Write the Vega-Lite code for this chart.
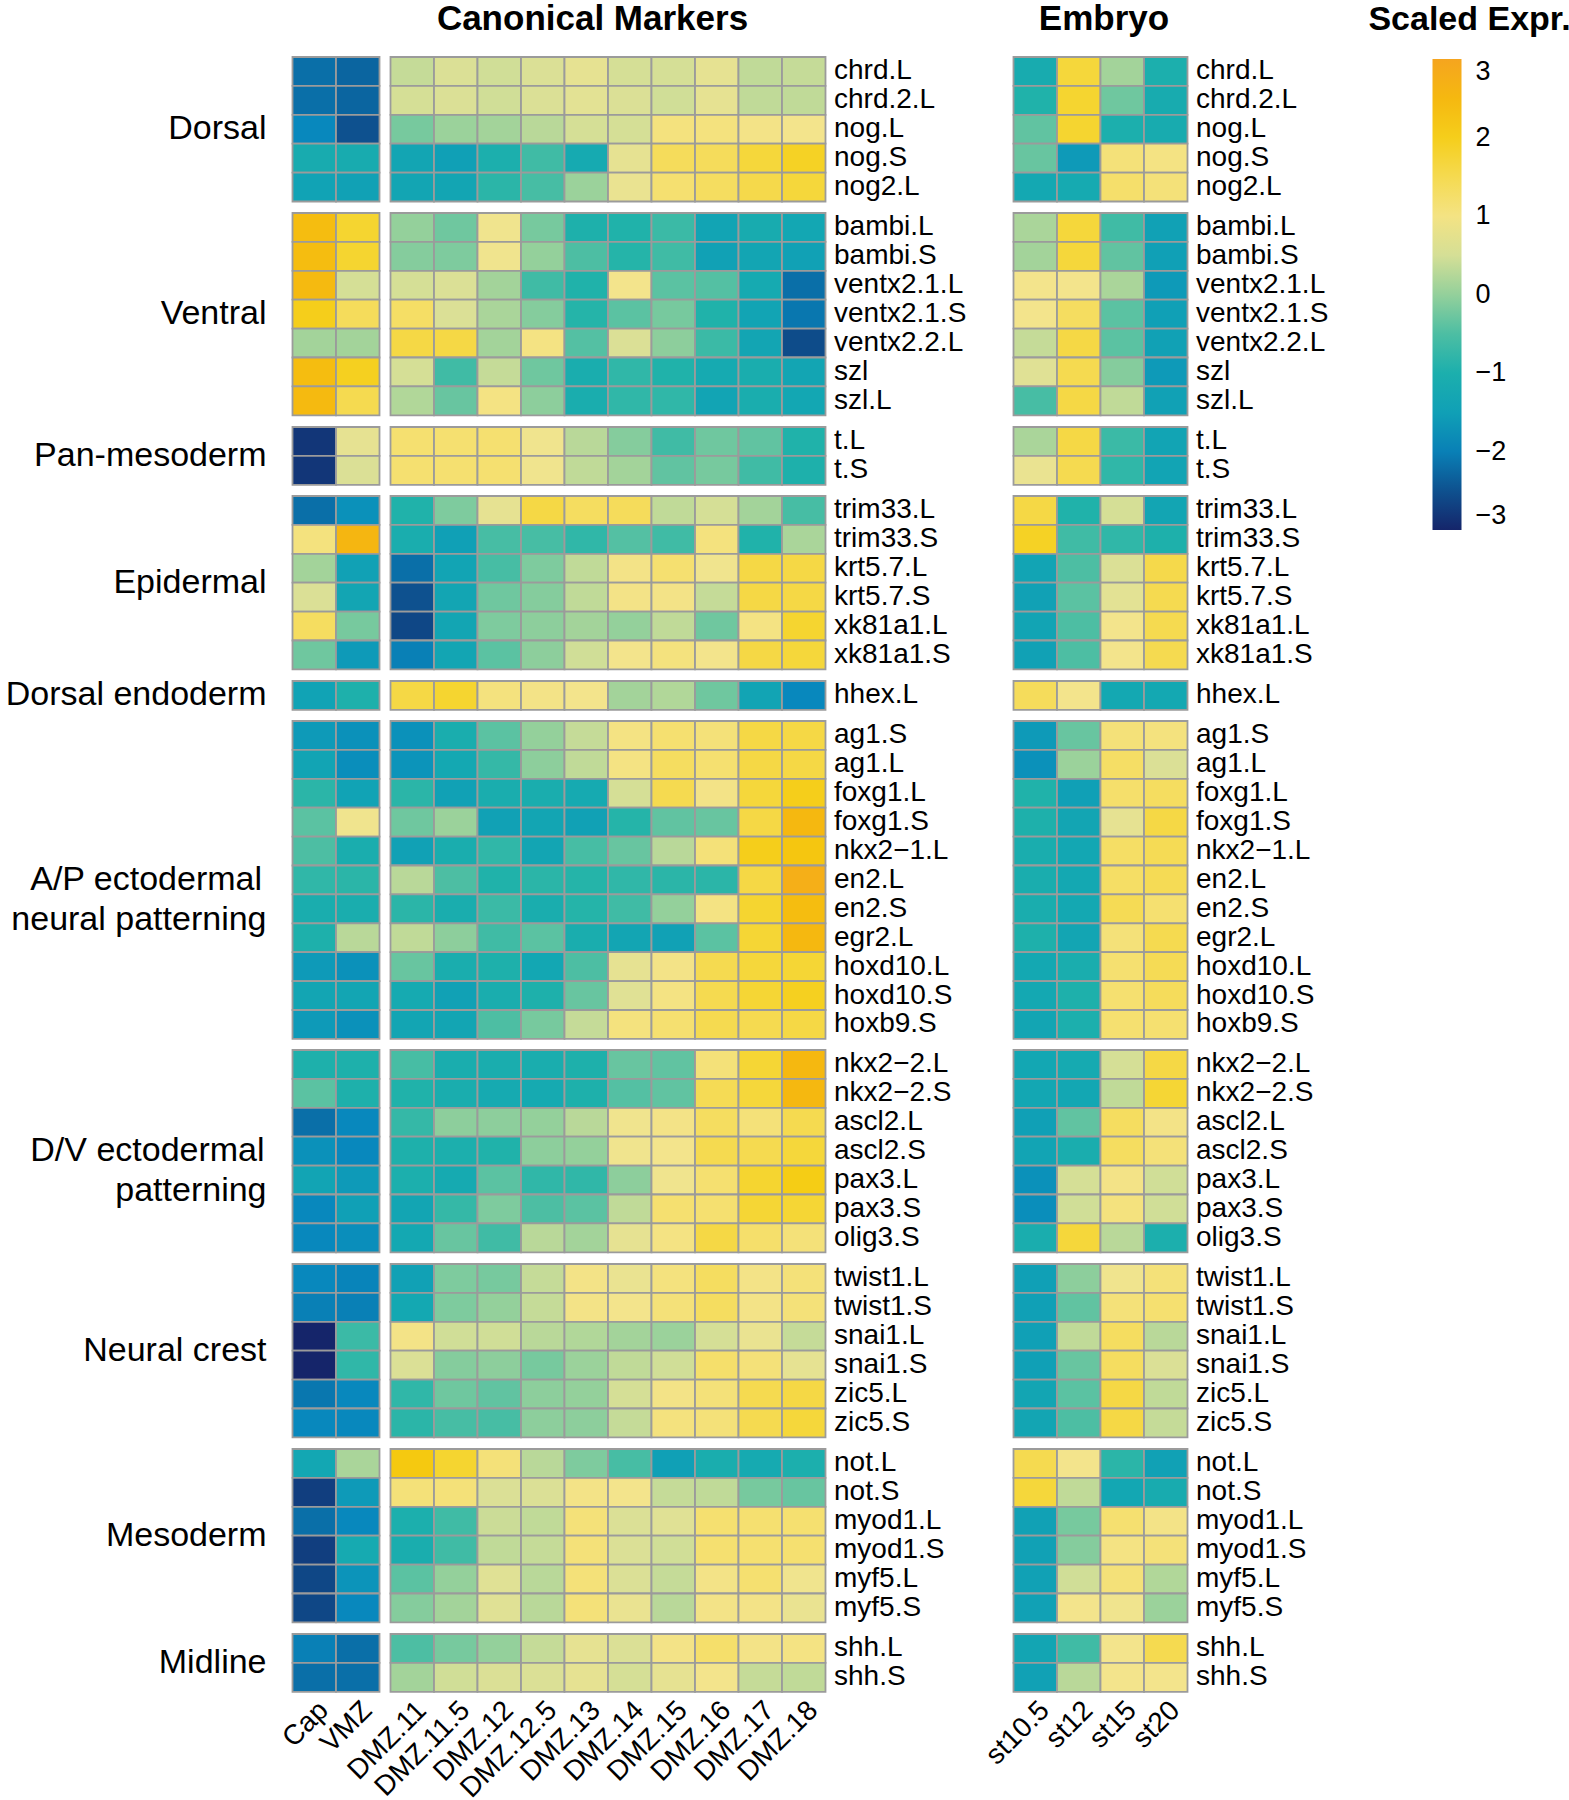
{
"$schema": "https://vega.github.io/schema/vega-lite/v6.json",
"padding": {"left": 5.5, "top": 2, "right": 0, "bottom": 0},
"config": {"font": "Liberation Sans", "view": {"stroke": null}, "axis": {"labelColor": "#000"}, "header": {"labelColor": "#000"}},
"datasets": {
"genes": [
{"g":"chrd.L","grp":"Dorsal","i":1},{"g":"chrd.2.L","grp":"Dorsal","i":2},{"g":"nog.L","grp":"Dorsal","i":3},{"g":"nog.S","grp":"Dorsal","i":4},{"g":"nog2.L","grp":"Dorsal","i":5},
{"g":"bambi.L","grp":"Ventral","i":6},{"g":"bambi.S","grp":"Ventral","i":7},{"g":"ventx2.1.L","grp":"Ventral","i":8},{"g":"ventx2.1.S","grp":"Ventral","i":9},{"g":"ventx2.2.L","grp":"Ventral","i":10},{"g":"szl","grp":"Ventral","i":11},{"g":"szl.L","grp":"Ventral","i":12},
{"g":"t.L","grp":"Pan-mesoderm","i":13},{"g":"t.S","grp":"Pan-mesoderm","i":14},
{"g":"trim33.L","grp":"Epidermal","i":15},{"g":"trim33.S","grp":"Epidermal","i":16},{"g":"krt5.7.L","grp":"Epidermal","i":17},{"g":"krt5.7.S","grp":"Epidermal","i":18},{"g":"xk81a1.L","grp":"Epidermal","i":19},{"g":"xk81a1.S","grp":"Epidermal","i":20},
{"g":"hhex.L","grp":"Dorsal endoderm","i":21},
{"g":"ag1.S","grp":"\u200b\u00a0\u00a0A/P ectodermal|neural patterning","i":22},{"g":"ag1.L","grp":"\u200b\u00a0\u00a0A/P ectodermal|neural patterning","i":23},{"g":"foxg1.L","grp":"\u200b\u00a0\u00a0A/P ectodermal|neural patterning","i":24},{"g":"foxg1.S","grp":"\u200b\u00a0\u00a0A/P ectodermal|neural patterning","i":25},{"g":"nkx2−1.L","grp":"\u200b\u00a0\u00a0A/P ectodermal|neural patterning","i":26},{"g":"en2.L","grp":"\u200b\u00a0\u00a0A/P ectodermal|neural patterning","i":27},{"g":"en2.S","grp":"\u200b\u00a0\u00a0A/P ectodermal|neural patterning","i":28},{"g":"egr2.L","grp":"\u200b\u00a0\u00a0A/P ectodermal|neural patterning","i":29},{"g":"hoxd10.L","grp":"\u200b\u00a0\u00a0A/P ectodermal|neural patterning","i":30},{"g":"hoxd10.S","grp":"\u200b\u00a0\u00a0A/P ectodermal|neural patterning","i":31},{"g":"hoxb9.S","grp":"\u200b\u00a0\u00a0A/P ectodermal|neural patterning","i":32},
{"g":"nkx2−2.L","grp":"D/V ectodermal|\u200b\u00a0\u00a0\u00a0\u00a0\u00a0\u00a0\u00a0\u00a0\u00a0patterning","i":33},{"g":"nkx2−2.S","grp":"D/V ectodermal|\u200b\u00a0\u00a0\u00a0\u00a0\u00a0\u00a0\u00a0\u00a0\u00a0patterning","i":34},{"g":"ascl2.L","grp":"D/V ectodermal|\u200b\u00a0\u00a0\u00a0\u00a0\u00a0\u00a0\u00a0\u00a0\u00a0patterning","i":35},{"g":"ascl2.S","grp":"D/V ectodermal|\u200b\u00a0\u00a0\u00a0\u00a0\u00a0\u00a0\u00a0\u00a0\u00a0patterning","i":36},{"g":"pax3.L","grp":"D/V ectodermal|\u200b\u00a0\u00a0\u00a0\u00a0\u00a0\u00a0\u00a0\u00a0\u00a0patterning","i":37},{"g":"pax3.S","grp":"D/V ectodermal|\u200b\u00a0\u00a0\u00a0\u00a0\u00a0\u00a0\u00a0\u00a0\u00a0patterning","i":38},{"g":"olig3.S","grp":"D/V ectodermal|\u200b\u00a0\u00a0\u00a0\u00a0\u00a0\u00a0\u00a0\u00a0\u00a0patterning","i":39},
{"g":"twist1.L","grp":"Neural crest","i":40},{"g":"twist1.S","grp":"Neural crest","i":41},{"g":"snai1.L","grp":"Neural crest","i":42},{"g":"snai1.S","grp":"Neural crest","i":43},{"g":"zic5.L","grp":"Neural crest","i":44},{"g":"zic5.S","grp":"Neural crest","i":45},
{"g":"not.L","grp":"Mesoderm","i":46},{"g":"not.S","grp":"Mesoderm","i":47},{"g":"myod1.L","grp":"Mesoderm","i":48},{"g":"myod1.S","grp":"Mesoderm","i":49},{"g":"myf5.L","grp":"Mesoderm","i":50},{"g":"myf5.S","grp":"Mesoderm","i":51},
{"g":"shh.L","grp":"Midline","i":52},{"g":"shh.S","grp":"Midline","i":53}
],
"cells": [
{"g":"chrd.L","c":"Cap","v":-2.2},{"g":"chrd.L","c":"VMZ","v":-2.3},{"g":"chrd.L","c":"DMZ.11","v":0.35},{"g":"chrd.L","c":"DMZ.11.5","v":0.55},{"g":"chrd.L","c":"DMZ.12","v":0.45},{"g":"chrd.L","c":"DMZ.12.5","v":0.55},{"g":"chrd.L","c":"DMZ.13","v":0.7},{"g":"chrd.L","c":"DMZ.14","v":0.5},{"g":"chrd.L","c":"DMZ.15","v":0.5},{"g":"chrd.L","c":"DMZ.16","v":0.7},{"g":"chrd.L","c":"DMZ.17","v":0.3},{"g":"chrd.L","c":"DMZ.18","v":0.35},{"g":"chrd.L","c":"st10.5","v":-1.1},{"g":"chrd.L","c":"st12","v":1.7},{"g":"chrd.L","c":"st15","v":0.1},{"g":"chrd.L","c":"st20","v":-1.0},
{"g":"chrd.2.L","c":"Cap","v":-2.2},{"g":"chrd.2.L","c":"VMZ","v":-2.3},{"g":"chrd.2.L","c":"DMZ.11","v":0.5},{"g":"chrd.2.L","c":"DMZ.11.5","v":0.55},{"g":"chrd.2.L","c":"DMZ.12","v":0.45},{"g":"chrd.2.L","c":"DMZ.12.5","v":0.55},{"g":"chrd.2.L","c":"DMZ.13","v":0.65},{"g":"chrd.2.L","c":"DMZ.14","v":0.55},{"g":"chrd.2.L","c":"DMZ.15","v":0.45},{"g":"chrd.2.L","c":"DMZ.16","v":0.7},{"g":"chrd.2.L","c":"DMZ.17","v":0.3},{"g":"chrd.2.L","c":"DMZ.18","v":0.3},{"g":"chrd.2.L","c":"st10.5","v":-0.9},{"g":"chrd.2.L","c":"st12","v":1.8},{"g":"chrd.2.L","c":"st15","v":-0.25},{"g":"chrd.2.L","c":"st20","v":-1.1},
{"g":"nog.L","c":"Cap","v":-1.9},{"g":"nog.L","c":"VMZ","v":-2.5},{"g":"nog.L","c":"DMZ.11","v":-0.2},{"g":"nog.L","c":"DMZ.11.5","v":0.05},{"g":"nog.L","c":"DMZ.12","v":0.1},{"g":"nog.L","c":"DMZ.12.5","v":0.25},{"g":"nog.L","c":"DMZ.13","v":0.5},{"g":"nog.L","c":"DMZ.14","v":0.5},{"g":"nog.L","c":"DMZ.15","v":1.05},{"g":"nog.L","c":"DMZ.16","v":1.05},{"g":"nog.L","c":"DMZ.17","v":0.95},{"g":"nog.L","c":"DMZ.18","v":0.9},{"g":"nog.L","c":"st10.5","v":-0.35},{"g":"nog.L","c":"st12","v":1.8},{"g":"nog.L","c":"st15","v":-1.0},{"g":"nog.L","c":"st20","v":-1.1},
{"g":"nog.S","c":"Cap","v":-1.1},{"g":"nog.S","c":"VMZ","v":-1.1},{"g":"nog.S","c":"DMZ.11","v":-1.3},{"g":"nog.S","c":"DMZ.11.5","v":-1.5},{"g":"nog.S","c":"DMZ.12","v":-1.0},{"g":"nog.S","c":"DMZ.12.5","v":-0.6},{"g":"nog.S","c":"DMZ.13","v":-1.15},{"g":"nog.S","c":"DMZ.14","v":0.7},{"g":"nog.S","c":"DMZ.15","v":1.4},{"g":"nog.S","c":"DMZ.16","v":1.4},{"g":"nog.S","c":"DMZ.17","v":1.7},{"g":"nog.S","c":"DMZ.18","v":1.9},{"g":"nog.S","c":"st10.5","v":-0.3},{"g":"nog.S","c":"st12","v":-1.6},{"g":"nog.S","c":"st15","v":1.1},{"g":"nog.S","c":"st20","v":1.0},
{"g":"nog2.L","c":"Cap","v":-1.4},{"g":"nog2.L","c":"VMZ","v":-1.45},{"g":"nog2.L","c":"DMZ.11","v":-1.3},{"g":"nog2.L","c":"DMZ.11.5","v":-1.3},{"g":"nog2.L","c":"DMZ.12","v":-0.8},{"g":"nog2.L","c":"DMZ.12.5","v":-0.55},{"g":"nog2.L","c":"DMZ.13","v":0.05},{"g":"nog2.L","c":"DMZ.14","v":0.75},{"g":"nog2.L","c":"DMZ.15","v":1.2},{"g":"nog2.L","c":"DMZ.16","v":1.35},{"g":"nog2.L","c":"DMZ.17","v":1.55},{"g":"nog2.L","c":"DMZ.18","v":1.7},{"g":"nog2.L","c":"st10.5","v":-1.2},{"g":"nog2.L","c":"st12","v":-1.15},{"g":"nog2.L","c":"st15","v":1.25},{"g":"nog2.L","c":"st20","v":1.1},
{"g":"bambi.L","c":"Cap","v":2.4},{"g":"bambi.L","c":"VMZ","v":1.8},{"g":"bambi.L","c":"DMZ.11","v":0.0},{"g":"bambi.L","c":"DMZ.11.5","v":-0.25},{"g":"bambi.L","c":"DMZ.12","v":0.85},{"g":"bambi.L","c":"DMZ.12.5","v":-0.2},{"g":"bambi.L","c":"DMZ.13","v":-0.95},{"g":"bambi.L","c":"DMZ.14","v":-0.9},{"g":"bambi.L","c":"DMZ.15","v":-0.65},{"g":"bambi.L","c":"DMZ.16","v":-1.35},{"g":"bambi.L","c":"DMZ.17","v":-1.1},{"g":"bambi.L","c":"DMZ.18","v":-1.25},{"g":"bambi.L","c":"st10.5","v":0.15},{"g":"bambi.L","c":"st12","v":1.7},{"g":"bambi.L","c":"st15","v":-0.6},{"g":"bambi.L","c":"st20","v":-1.45},
{"g":"bambi.S","c":"Cap","v":2.4},{"g":"bambi.S","c":"VMZ","v":1.8},{"g":"bambi.S","c":"DMZ.11","v":-0.1},{"g":"bambi.S","c":"DMZ.11.5","v":-0.15},{"g":"bambi.S","c":"DMZ.12","v":0.85},{"g":"bambi.S","c":"DMZ.12.5","v":0.0},{"g":"bambi.S","c":"DMZ.13","v":-0.5},{"g":"bambi.S","c":"DMZ.14","v":-0.85},{"g":"bambi.S","c":"DMZ.15","v":-0.6},{"g":"bambi.S","c":"DMZ.16","v":-1.45},{"g":"bambi.S","c":"DMZ.17","v":-1.3},{"g":"bambi.S","c":"DMZ.18","v":-1.45},{"g":"bambi.S","c":"st10.5","v":0.1},{"g":"bambi.S","c":"st12","v":1.7},{"g":"bambi.S","c":"st15","v":-0.35},{"g":"bambi.S","c":"st20","v":-1.5},
{"g":"ventx2.1.L","c":"Cap","v":2.45},{"g":"ventx2.1.L","c":"VMZ","v":0.5},{"g":"ventx2.1.L","c":"DMZ.11","v":0.5},{"g":"ventx2.1.L","c":"DMZ.11.5","v":0.55},{"g":"ventx2.1.L","c":"DMZ.12","v":0.1},{"g":"ventx2.1.L","c":"DMZ.12.5","v":-0.6},{"g":"ventx2.1.L","c":"DMZ.13","v":-0.9},{"g":"ventx2.1.L","c":"DMZ.14","v":0.9},{"g":"ventx2.1.L","c":"DMZ.15","v":-0.4},{"g":"ventx2.1.L","c":"DMZ.16","v":-0.45},{"g":"ventx2.1.L","c":"DMZ.17","v":-1.15},{"g":"ventx2.1.L","c":"DMZ.18","v":-2.2},{"g":"ventx2.1.L","c":"st10.5","v":0.9},{"g":"ventx2.1.L","c":"st12","v":0.9},{"g":"ventx2.1.L","c":"st15","v":0.15},{"g":"ventx2.1.L","c":"st20","v":-1.6},
{"g":"ventx2.1.S","c":"Cap","v":2.0},{"g":"ventx2.1.S","c":"VMZ","v":1.4},{"g":"ventx2.1.S","c":"DMZ.11","v":1.3},{"g":"ventx2.1.S","c":"DMZ.11.5","v":0.55},{"g":"ventx2.1.S","c":"DMZ.12","v":0.15},{"g":"ventx2.1.S","c":"DMZ.12.5","v":-0.1},{"g":"ventx2.1.S","c":"DMZ.13","v":-0.85},{"g":"ventx2.1.S","c":"DMZ.14","v":-0.4},{"g":"ventx2.1.S","c":"DMZ.15","v":-0.2},{"g":"ventx2.1.S","c":"DMZ.16","v":-0.9},{"g":"ventx2.1.S","c":"DMZ.17","v":-1.35},{"g":"ventx2.1.S","c":"DMZ.18","v":-2.1},{"g":"ventx2.1.S","c":"st10.5","v":0.9},{"g":"ventx2.1.S","c":"st12","v":1.35},{"g":"ventx2.1.S","c":"st15","v":-0.4},{"g":"ventx2.1.S","c":"st20","v":-1.5},
{"g":"ventx2.2.L","c":"Cap","v":0.1},{"g":"ventx2.2.L","c":"VMZ","v":0.1},{"g":"ventx2.2.L","c":"DMZ.11","v":1.6},{"g":"ventx2.2.L","c":"DMZ.11.5","v":1.6},{"g":"ventx2.2.L","c":"DMZ.12","v":0.1},{"g":"ventx2.2.L","c":"DMZ.12.5","v":1.0},{"g":"ventx2.2.L","c":"DMZ.13","v":-0.45},{"g":"ventx2.2.L","c":"DMZ.14","v":0.55},{"g":"ventx2.2.L","c":"DMZ.15","v":-0.05},{"g":"ventx2.2.L","c":"DMZ.16","v":-0.65},{"g":"ventx2.2.L","c":"DMZ.17","v":-1.3},{"g":"ventx2.2.L","c":"DMZ.18","v":-2.55},{"g":"ventx2.2.L","c":"st10.5","v":0.35},{"g":"ventx2.2.L","c":"st12","v":1.6},{"g":"ventx2.2.L","c":"st15","v":-0.4},{"g":"ventx2.2.L","c":"st20","v":-1.45},
{"g":"szl","c":"Cap","v":2.4},{"g":"szl","c":"VMZ","v":1.95},{"g":"szl","c":"DMZ.11","v":0.5},{"g":"szl","c":"DMZ.11.5","v":-0.6},{"g":"szl","c":"DMZ.12","v":0.35},{"g":"szl","c":"DMZ.12.5","v":-0.25},{"g":"szl","c":"DMZ.13","v":-1.05},{"g":"szl","c":"DMZ.14","v":-0.75},{"g":"szl","c":"DMZ.15","v":-0.9},{"g":"szl","c":"DMZ.16","v":-1.15},{"g":"szl","c":"DMZ.17","v":-1.05},{"g":"szl","c":"DMZ.18","v":-1.3},{"g":"szl","c":"st10.5","v":0.6},{"g":"szl","c":"st12","v":1.5},{"g":"szl","c":"st15","v":-0.1},{"g":"szl","c":"st20","v":-1.6},
{"g":"szl.L","c":"Cap","v":2.45},{"g":"szl.L","c":"VMZ","v":1.5},{"g":"szl.L","c":"DMZ.11","v":0.2},{"g":"szl.L","c":"DMZ.11.5","v":-0.3},{"g":"szl.L","c":"DMZ.12","v":1.0},{"g":"szl.L","c":"DMZ.12.5","v":-0.05},{"g":"szl.L","c":"DMZ.13","v":-1.05},{"g":"szl.L","c":"DMZ.14","v":-0.75},{"g":"szl.L","c":"DMZ.15","v":-0.75},{"g":"szl.L","c":"DMZ.16","v":-1.35},{"g":"szl.L","c":"DMZ.17","v":-1.05},{"g":"szl.L","c":"DMZ.18","v":-1.25},{"g":"szl.L","c":"st10.5","v":-0.55},{"g":"szl.L","c":"st12","v":1.6},{"g":"szl.L","c":"st15","v":0.3},{"g":"szl.L","c":"st20","v":-1.45},
{"g":"t.L","c":"Cap","v":-2.8},{"g":"t.L","c":"VMZ","v":0.7},{"g":"t.L","c":"DMZ.11","v":1.2},{"g":"t.L","c":"DMZ.11.5","v":1.2},{"g":"t.L","c":"DMZ.12","v":1.2},{"g":"t.L","c":"DMZ.12.5","v":0.85},{"g":"t.L","c":"DMZ.13","v":0.25},{"g":"t.L","c":"DMZ.14","v":-0.1},{"g":"t.L","c":"DMZ.15","v":-0.6},{"g":"t.L","c":"DMZ.16","v":-0.25},{"g":"t.L","c":"DMZ.17","v":-0.35},{"g":"t.L","c":"DMZ.18","v":-0.9},{"g":"t.L","c":"st10.5","v":0.15},{"g":"t.L","c":"st12","v":1.6},{"g":"t.L","c":"st15","v":-0.65},{"g":"t.L","c":"st20","v":-1.35},
{"g":"t.S","c":"Cap","v":-2.8},{"g":"t.S","c":"VMZ","v":0.55},{"g":"t.S","c":"DMZ.11","v":1.2},{"g":"t.S","c":"DMZ.11.5","v":1.2},{"g":"t.S","c":"DMZ.12","v":1.2},{"g":"t.S","c":"DMZ.12.5","v":0.85},{"g":"t.S","c":"DMZ.13","v":0.3},{"g":"t.S","c":"DMZ.14","v":0.1},{"g":"t.S","c":"DMZ.15","v":-0.35},{"g":"t.S","c":"DMZ.16","v":-0.2},{"g":"t.S","c":"DMZ.17","v":-0.6},{"g":"t.S","c":"DMZ.18","v":-0.95},{"g":"t.S","c":"st10.5","v":0.75},{"g":"t.S","c":"st12","v":1.5},{"g":"t.S","c":"st15","v":-0.75},{"g":"t.S","c":"st20","v":-1.35},
{"g":"trim33.L","c":"Cap","v":-2.2},{"g":"trim33.L","c":"VMZ","v":-1.75},{"g":"trim33.L","c":"DMZ.11","v":-0.9},{"g":"trim33.L","c":"DMZ.11.5","v":-0.15},{"g":"trim33.L","c":"DMZ.12","v":0.7},{"g":"trim33.L","c":"DMZ.12.5","v":1.6},{"g":"trim33.L","c":"DMZ.13","v":1.35},{"g":"trim33.L","c":"DMZ.14","v":1.4},{"g":"trim33.L","c":"DMZ.15","v":0.3},{"g":"trim33.L","c":"DMZ.16","v":0.5},{"g":"trim33.L","c":"DMZ.17","v":0.1},{"g":"trim33.L","c":"DMZ.18","v":-0.55},{"g":"trim33.L","c":"st10.5","v":1.6},{"g":"trim33.L","c":"st12","v":-0.9},{"g":"trim33.L","c":"st15","v":0.5},{"g":"trim33.L","c":"st20","v":-1.3},
{"g":"trim33.S","c":"Cap","v":1.05},{"g":"trim33.S","c":"VMZ","v":2.55},{"g":"trim33.S","c":"DMZ.11","v":-1.05},{"g":"trim33.S","c":"DMZ.11.5","v":-1.5},{"g":"trim33.S","c":"DMZ.12","v":-0.55},{"g":"trim33.S","c":"DMZ.12.5","v":-0.55},{"g":"trim33.S","c":"DMZ.13","v":-0.75},{"g":"trim33.S","c":"DMZ.14","v":-0.45},{"g":"trim33.S","c":"DMZ.15","v":-0.6},{"g":"trim33.S","c":"DMZ.16","v":1.05},{"g":"trim33.S","c":"DMZ.17","v":-0.9},{"g":"trim33.S","c":"DMZ.18","v":0.15},{"g":"trim33.S","c":"st10.5","v":1.9},{"g":"trim33.S","c":"st12","v":-0.6},{"g":"trim33.S","c":"st15","v":-0.75},{"g":"trim33.S","c":"st20","v":-0.95},
{"g":"krt5.7.L","c":"Cap","v":0.1},{"g":"krt5.7.L","c":"VMZ","v":-1.45},{"g":"krt5.7.L","c":"DMZ.11","v":-2.2},{"g":"krt5.7.L","c":"DMZ.11.5","v":-1.35},{"g":"krt5.7.L","c":"DMZ.12","v":-0.55},{"g":"krt5.7.L","c":"DMZ.12.5","v":-0.15},{"g":"krt5.7.L","c":"DMZ.13","v":0.3},{"g":"krt5.7.L","c":"DMZ.14","v":0.95},{"g":"krt5.7.L","c":"DMZ.15","v":1.2},{"g":"krt5.7.L","c":"DMZ.16","v":0.85},{"g":"krt5.7.L","c":"DMZ.17","v":1.6},{"g":"krt5.7.L","c":"DMZ.18","v":1.6},{"g":"krt5.7.L","c":"st10.5","v":-1.35},{"g":"krt5.7.L","c":"st12","v":-0.5},{"g":"krt5.7.L","c":"st15","v":0.55},{"g":"krt5.7.L","c":"st20","v":1.55},
{"g":"krt5.7.S","c":"Cap","v":0.55},{"g":"krt5.7.S","c":"VMZ","v":-1.3},{"g":"krt5.7.S","c":"DMZ.11","v":-2.5},{"g":"krt5.7.S","c":"DMZ.11.5","v":-1.3},{"g":"krt5.7.S","c":"DMZ.12","v":-0.25},{"g":"krt5.7.S","c":"DMZ.12.5","v":-0.1},{"g":"krt5.7.S","c":"DMZ.13","v":0.3},{"g":"krt5.7.S","c":"DMZ.14","v":0.95},{"g":"krt5.7.S","c":"DMZ.15","v":0.95},{"g":"krt5.7.S","c":"DMZ.16","v":0.35},{"g":"krt5.7.S","c":"DMZ.17","v":1.6},{"g":"krt5.7.S","c":"DMZ.18","v":1.6},{"g":"krt5.7.S","c":"st10.5","v":-1.45},{"g":"krt5.7.S","c":"st12","v":-0.4},{"g":"krt5.7.S","c":"st15","v":0.65},{"g":"krt5.7.S","c":"st20","v":1.5},
{"g":"xk81a1.L","c":"Cap","v":1.35},{"g":"xk81a1.L","c":"VMZ","v":-0.2},{"g":"xk81a1.L","c":"DMZ.11","v":-2.6},{"g":"xk81a1.L","c":"DMZ.11.5","v":-1.3},{"g":"xk81a1.L","c":"DMZ.12","v":-0.15},{"g":"xk81a1.L","c":"DMZ.12.5","v":-0.05},{"g":"xk81a1.L","c":"DMZ.13","v":0.1},{"g":"xk81a1.L","c":"DMZ.14","v":0.0},{"g":"xk81a1.L","c":"DMZ.15","v":0.3},{"g":"xk81a1.L","c":"DMZ.16","v":-0.25},{"g":"xk81a1.L","c":"DMZ.17","v":1.0},{"g":"xk81a1.L","c":"DMZ.18","v":1.8},{"g":"xk81a1.L","c":"st10.5","v":-1.35},{"g":"xk81a1.L","c":"st12","v":-0.5},{"g":"xk81a1.L","c":"st15","v":0.9},{"g":"xk81a1.L","c":"st20","v":1.5},
{"g":"xk81a1.S","c":"Cap","v":-0.25},{"g":"xk81a1.S","c":"VMZ","v":-1.6},{"g":"xk81a1.S","c":"DMZ.11","v":-2.0},{"g":"xk81a1.S","c":"DMZ.11.5","v":-1.3},{"g":"xk81a1.S","c":"DMZ.12","v":-0.4},{"g":"xk81a1.S","c":"DMZ.12.5","v":-0.05},{"g":"xk81a1.S","c":"DMZ.13","v":0.45},{"g":"xk81a1.S","c":"DMZ.14","v":0.9},{"g":"xk81a1.S","c":"DMZ.15","v":1.05},{"g":"xk81a1.S","c":"DMZ.16","v":0.9},{"g":"xk81a1.S","c":"DMZ.17","v":1.6},{"g":"xk81a1.S","c":"DMZ.18","v":1.7},{"g":"xk81a1.S","c":"st10.5","v":-1.45},{"g":"xk81a1.S","c":"st12","v":-0.5},{"g":"xk81a1.S","c":"st15","v":0.9},{"g":"xk81a1.S","c":"st20","v":1.5},
{"g":"hhex.L","c":"Cap","v":-1.4},{"g":"hhex.L","c":"VMZ","v":-0.95},{"g":"hhex.L","c":"DMZ.11","v":1.6},{"g":"hhex.L","c":"DMZ.11.5","v":1.8},{"g":"hhex.L","c":"DMZ.12","v":1.05},{"g":"hhex.L","c":"DMZ.12.5","v":0.95},{"g":"hhex.L","c":"DMZ.13","v":0.9},{"g":"hhex.L","c":"DMZ.14","v":0.1},{"g":"hhex.L","c":"DMZ.15","v":0.2},{"g":"hhex.L","c":"DMZ.16","v":-0.25},{"g":"hhex.L","c":"DMZ.17","v":-1.35},{"g":"hhex.L","c":"DMZ.18","v":-1.9},{"g":"hhex.L","c":"st10.5","v":1.4},{"g":"hhex.L","c":"st12","v":0.9},{"g":"hhex.L","c":"st15","v":-1.2},{"g":"hhex.L","c":"st20","v":-1.2},
{"g":"ag1.S","c":"Cap","v":-1.6},{"g":"ag1.S","c":"VMZ","v":-1.75},{"g":"ag1.S","c":"DMZ.11","v":-1.75},{"g":"ag1.S","c":"DMZ.11.5","v":-1.05},{"g":"ag1.S","c":"DMZ.12","v":-0.4},{"g":"ag1.S","c":"DMZ.12.5","v":0.0},{"g":"ag1.S","c":"DMZ.13","v":0.35},{"g":"ag1.S","c":"DMZ.14","v":1.0},{"g":"ag1.S","c":"DMZ.15","v":1.2},{"g":"ag1.S","c":"DMZ.16","v":1.1},{"g":"ag1.S","c":"DMZ.17","v":1.6},{"g":"ag1.S","c":"DMZ.18","v":1.6},{"g":"ag1.S","c":"st10.5","v":-1.6},{"g":"ag1.S","c":"st12","v":-0.3},{"g":"ag1.S","c":"st15","v":1.1},{"g":"ag1.S","c":"st20","v":1.05},
{"g":"ag1.L","c":"Cap","v":-1.35},{"g":"ag1.L","c":"VMZ","v":-1.8},{"g":"ag1.L","c":"DMZ.11","v":-1.7},{"g":"ag1.L","c":"DMZ.11.5","v":-1.2},{"g":"ag1.L","c":"DMZ.12","v":-0.7},{"g":"ag1.L","c":"DMZ.12.5","v":-0.05},{"g":"ag1.L","c":"DMZ.13","v":0.3},{"g":"ag1.L","c":"DMZ.14","v":1.0},{"g":"ag1.L","c":"DMZ.15","v":1.35},{"g":"ag1.L","c":"DMZ.16","v":1.2},{"g":"ag1.L","c":"DMZ.17","v":1.6},{"g":"ag1.L","c":"DMZ.18","v":1.6},{"g":"ag1.L","c":"st10.5","v":-1.75},{"g":"ag1.L","c":"st12","v":0.05},{"g":"ag1.L","c":"st15","v":1.3},{"g":"ag1.L","c":"st20","v":0.55},
{"g":"foxg1.L","c":"Cap","v":-0.8},{"g":"foxg1.L","c":"VMZ","v":-1.4},{"g":"foxg1.L","c":"DMZ.11","v":-0.8},{"g":"foxg1.L","c":"DMZ.11.5","v":-1.45},{"g":"foxg1.L","c":"DMZ.12","v":-1.05},{"g":"foxg1.L","c":"DMZ.12.5","v":-1.05},{"g":"foxg1.L","c":"DMZ.13","v":-1.15},{"g":"foxg1.L","c":"DMZ.14","v":0.5},{"g":"foxg1.L","c":"DMZ.15","v":1.5},{"g":"foxg1.L","c":"DMZ.16","v":0.95},{"g":"foxg1.L","c":"DMZ.17","v":1.7},{"g":"foxg1.L","c":"DMZ.18","v":2.0},{"g":"foxg1.L","c":"st10.5","v":-0.9},{"g":"foxg1.L","c":"st12","v":-1.5},{"g":"foxg1.L","c":"st15","v":1.25},{"g":"foxg1.L","c":"st20","v":1.35},
{"g":"foxg1.S","c":"Cap","v":-0.4},{"g":"foxg1.S","c":"VMZ","v":0.85},{"g":"foxg1.S","c":"DMZ.11","v":-0.25},{"g":"foxg1.S","c":"DMZ.11.5","v":0.05},{"g":"foxg1.S","c":"DMZ.12","v":-1.45},{"g":"foxg1.S","c":"DMZ.12.5","v":-1.3},{"g":"foxg1.S","c":"DMZ.13","v":-1.45},{"g":"foxg1.S","c":"DMZ.14","v":-0.85},{"g":"foxg1.S","c":"DMZ.15","v":-0.35},{"g":"foxg1.S","c":"DMZ.16","v":-0.3},{"g":"foxg1.S","c":"DMZ.17","v":1.6},{"g":"foxg1.S","c":"DMZ.18","v":2.5},{"g":"foxg1.S","c":"st10.5","v":-0.95},{"g":"foxg1.S","c":"st12","v":-1.3},{"g":"foxg1.S","c":"st15","v":0.7},{"g":"foxg1.S","c":"st20","v":1.6},
{"g":"nkx2−1.L","c":"Cap","v":-0.5},{"g":"nkx2−1.L","c":"VMZ","v":-1.05},{"g":"nkx2−1.L","c":"DMZ.11","v":-1.45},{"g":"nkx2−1.L","c":"DMZ.11.5","v":-1.05},{"g":"nkx2−1.L","c":"DMZ.12","v":-0.75},{"g":"nkx2−1.L","c":"DMZ.12.5","v":-1.3},{"g":"nkx2−1.L","c":"DMZ.13","v":-0.55},{"g":"nkx2−1.L","c":"DMZ.14","v":-0.3},{"g":"nkx2−1.L","c":"DMZ.15","v":0.25},{"g":"nkx2−1.L","c":"DMZ.16","v":1.1},{"g":"nkx2−1.L","c":"DMZ.17","v":2.0},{"g":"nkx2−1.L","c":"DMZ.18","v":2.2},{"g":"nkx2−1.L","c":"st10.5","v":-1.05},{"g":"nkx2−1.L","c":"st12","v":-1.25},{"g":"nkx2−1.L","c":"st15","v":1.3},{"g":"nkx2−1.L","c":"st20","v":1.45},
{"g":"en2.L","c":"Cap","v":-0.75},{"g":"en2.L","c":"VMZ","v":-0.8},{"g":"en2.L","c":"DMZ.11","v":0.25},{"g":"en2.L","c":"DMZ.11.5","v":-0.5},{"g":"en2.L","c":"DMZ.12","v":-0.9},{"g":"en2.L","c":"DMZ.12.5","v":-0.8},{"g":"en2.L","c":"DMZ.13","v":-0.85},{"g":"en2.L","c":"DMZ.14","v":-0.75},{"g":"en2.L","c":"DMZ.15","v":-0.8},{"g":"en2.L","c":"DMZ.16","v":-0.8},{"g":"en2.L","c":"DMZ.17","v":1.6},{"g":"en2.L","c":"DMZ.18","v":2.75},{"g":"en2.L","c":"st10.5","v":-1.05},{"g":"en2.L","c":"st12","v":-1.2},{"g":"en2.L","c":"st15","v":1.3},{"g":"en2.L","c":"st20","v":1.45},
{"g":"en2.S","c":"Cap","v":-1.05},{"g":"en2.S","c":"VMZ","v":-1.05},{"g":"en2.S","c":"DMZ.11","v":-0.8},{"g":"en2.S","c":"DMZ.11.5","v":-1.05},{"g":"en2.S","c":"DMZ.12","v":-0.65},{"g":"en2.S","c":"DMZ.12.5","v":-1.05},{"g":"en2.S","c":"DMZ.13","v":-0.85},{"g":"en2.S","c":"DMZ.14","v":-0.6},{"g":"en2.S","c":"DMZ.15","v":0.0},{"g":"en2.S","c":"DMZ.16","v":1.0},{"g":"en2.S","c":"DMZ.17","v":1.8},{"g":"en2.S","c":"DMZ.18","v":2.4},{"g":"en2.S","c":"st10.5","v":-1.05},{"g":"en2.S","c":"st12","v":-1.2},{"g":"en2.S","c":"st15","v":1.45},{"g":"en2.S","c":"st20","v":1.2},
{"g":"egr2.L","c":"Cap","v":-0.95},{"g":"egr2.L","c":"VMZ","v":0.25},{"g":"egr2.L","c":"DMZ.11","v":0.3},{"g":"egr2.L","c":"DMZ.11.5","v":-0.05},{"g":"egr2.L","c":"DMZ.12","v":-0.6},{"g":"egr2.L","c":"DMZ.12.5","v":-0.4},{"g":"egr2.L","c":"DMZ.13","v":-1.05},{"g":"egr2.L","c":"DMZ.14","v":-1.3},{"g":"egr2.L","c":"DMZ.15","v":-1.45},{"g":"egr2.L","c":"DMZ.16","v":-0.4},{"g":"egr2.L","c":"DMZ.17","v":1.75},{"g":"egr2.L","c":"DMZ.18","v":2.5},{"g":"egr2.L","c":"st10.5","v":-0.95},{"g":"egr2.L","c":"st12","v":-1.3},{"g":"egr2.L","c":"st15","v":1.1},{"g":"egr2.L","c":"st20","v":1.5},
{"g":"hoxd10.L","c":"Cap","v":-1.6},{"g":"hoxd10.L","c":"VMZ","v":-1.75},{"g":"hoxd10.L","c":"DMZ.11","v":-0.3},{"g":"hoxd10.L","c":"DMZ.11.5","v":-1.05},{"g":"hoxd10.L","c":"DMZ.12","v":-0.95},{"g":"hoxd10.L","c":"DMZ.12.5","v":-1.25},{"g":"hoxd10.L","c":"DMZ.13","v":-0.5},{"g":"hoxd10.L","c":"DMZ.14","v":0.7},{"g":"hoxd10.L","c":"DMZ.15","v":0.95},{"g":"hoxd10.L","c":"DMZ.16","v":1.5},{"g":"hoxd10.L","c":"DMZ.17","v":1.7},{"g":"hoxd10.L","c":"DMZ.18","v":1.75},{"g":"hoxd10.L","c":"st10.5","v":-1.2},{"g":"hoxd10.L","c":"st12","v":-1.05},{"g":"hoxd10.L","c":"st15","v":1.2},{"g":"hoxd10.L","c":"st20","v":1.45},
{"g":"hoxd10.S","c":"Cap","v":-1.3},{"g":"hoxd10.S","c":"VMZ","v":-1.3},{"g":"hoxd10.S","c":"DMZ.11","v":-1.15},{"g":"hoxd10.S","c":"DMZ.11.5","v":-1.45},{"g":"hoxd10.S","c":"DMZ.12","v":-1.05},{"g":"hoxd10.S","c":"DMZ.12.5","v":-0.95},{"g":"hoxd10.S","c":"DMZ.13","v":-0.3},{"g":"hoxd10.S","c":"DMZ.14","v":0.6},{"g":"hoxd10.S","c":"DMZ.15","v":1.0},{"g":"hoxd10.S","c":"DMZ.16","v":1.5},{"g":"hoxd10.S","c":"DMZ.17","v":1.75},{"g":"hoxd10.S","c":"DMZ.18","v":1.95},{"g":"hoxd10.S","c":"st10.5","v":-1.2},{"g":"hoxd10.S","c":"st12","v":-0.95},{"g":"hoxd10.S","c":"st15","v":1.2},{"g":"hoxd10.S","c":"st20","v":1.4},
{"g":"hoxb9.S","c":"Cap","v":-1.6},{"g":"hoxb9.S","c":"VMZ","v":-1.75},{"g":"hoxb9.S","c":"DMZ.11","v":-1.3},{"g":"hoxb9.S","c":"DMZ.11.5","v":-1.3},{"g":"hoxb9.S","c":"DMZ.12","v":-0.5},{"g":"hoxb9.S","c":"DMZ.12.5","v":-0.2},{"g":"hoxb9.S","c":"DMZ.13","v":0.35},{"g":"hoxb9.S","c":"DMZ.14","v":1.05},{"g":"hoxb9.S","c":"DMZ.15","v":1.2},{"g":"hoxb9.S","c":"DMZ.16","v":1.5},{"g":"hoxb9.S","c":"DMZ.17","v":1.5},{"g":"hoxb9.S","c":"DMZ.18","v":1.6},{"g":"hoxb9.S","c":"st10.5","v":-1.3},{"g":"hoxb9.S","c":"st12","v":-1.0},{"g":"hoxb9.S","c":"st15","v":1.2},{"g":"hoxb9.S","c":"st20","v":1.2},
{"g":"nkx2−2.L","c":"Cap","v":-0.95},{"g":"nkx2−2.L","c":"VMZ","v":-0.95},{"g":"nkx2−2.L","c":"DMZ.11","v":-0.55},{"g":"nkx2−2.L","c":"DMZ.11.5","v":-1.05},{"g":"nkx2−2.L","c":"DMZ.12","v":-1.05},{"g":"nkx2−2.L","c":"DMZ.12.5","v":-1.05},{"g":"nkx2−2.L","c":"DMZ.13","v":-0.95},{"g":"nkx2−2.L","c":"DMZ.14","v":-0.3},{"g":"nkx2−2.L","c":"DMZ.15","v":-0.35},{"g":"nkx2−2.L","c":"DMZ.16","v":1.1},{"g":"nkx2−2.L","c":"DMZ.17","v":1.75},{"g":"nkx2−2.L","c":"DMZ.18","v":2.5},{"g":"nkx2−2.L","c":"st10.5","v":-1.25},{"g":"nkx2−2.L","c":"st12","v":-1.15},{"g":"nkx2−2.L","c":"st15","v":0.5},{"g":"nkx2−2.L","c":"st20","v":1.6},
{"g":"nkx2−2.S","c":"Cap","v":-0.4},{"g":"nkx2−2.S","c":"VMZ","v":-0.95},{"g":"nkx2−2.S","c":"DMZ.11","v":-0.9},{"g":"nkx2−2.S","c":"DMZ.11.5","v":-1.05},{"g":"nkx2−2.S","c":"DMZ.12","v":-1.15},{"g":"nkx2−2.S","c":"DMZ.12.5","v":-1.15},{"g":"nkx2−2.S","c":"DMZ.13","v":-0.95},{"g":"nkx2−2.S","c":"DMZ.14","v":-0.45},{"g":"nkx2−2.S","c":"DMZ.15","v":-0.35},{"g":"nkx2−2.S","c":"DMZ.16","v":1.45},{"g":"nkx2−2.S","c":"DMZ.17","v":1.7},{"g":"nkx2−2.S","c":"DMZ.18","v":2.5},{"g":"nkx2−2.S","c":"st10.5","v":-1.25},{"g":"nkx2−2.S","c":"st12","v":-1.25},{"g":"nkx2−2.S","c":"st15","v":0.3},{"g":"nkx2−2.S","c":"st20","v":1.75},
{"g":"ascl2.L","c":"Cap","v":-2.2},{"g":"ascl2.L","c":"VMZ","v":-1.9},{"g":"ascl2.L","c":"DMZ.11","v":-0.7},{"g":"ascl2.L","c":"DMZ.11.5","v":-0.05},{"g":"ascl2.L","c":"DMZ.12","v":-0.05},{"g":"ascl2.L","c":"DMZ.12.5","v":0.0},{"g":"ascl2.L","c":"DMZ.13","v":0.25},{"g":"ascl2.L","c":"DMZ.14","v":0.85},{"g":"ascl2.L","c":"DMZ.15","v":0.95},{"g":"ascl2.L","c":"DMZ.16","v":1.35},{"g":"ascl2.L","c":"DMZ.17","v":1.1},{"g":"ascl2.L","c":"DMZ.18","v":1.5},{"g":"ascl2.L","c":"st10.5","v":-1.5},{"g":"ascl2.L","c":"st12","v":-0.35},{"g":"ascl2.L","c":"st15","v":1.35},{"g":"ascl2.L","c":"st20","v":0.95},
{"g":"ascl2.S","c":"Cap","v":-1.75},{"g":"ascl2.S","c":"VMZ","v":-1.9},{"g":"ascl2.S","c":"DMZ.11","v":-0.95},{"g":"ascl2.S","c":"DMZ.11.5","v":-1.0},{"g":"ascl2.S","c":"DMZ.12","v":-0.9},{"g":"ascl2.S","c":"DMZ.12.5","v":-0.05},{"g":"ascl2.S","c":"DMZ.13","v":0.0},{"g":"ascl2.S","c":"DMZ.14","v":0.85},{"g":"ascl2.S","c":"DMZ.15","v":0.9},{"g":"ascl2.S","c":"DMZ.16","v":1.5},{"g":"ascl2.S","c":"DMZ.17","v":1.5},{"g":"ascl2.S","c":"DMZ.18","v":1.7},{"g":"ascl2.S","c":"st10.5","v":-1.35},{"g":"ascl2.S","c":"st12","v":-1.05},{"g":"ascl2.S","c":"st15","v":1.35},{"g":"ascl2.S","c":"st20","v":1.1},
{"g":"pax3.L","c":"Cap","v":-1.35},{"g":"pax3.L","c":"VMZ","v":-1.6},{"g":"pax3.L","c":"DMZ.11","v":-1.0},{"g":"pax3.L","c":"DMZ.11.5","v":-1.15},{"g":"pax3.L","c":"DMZ.12","v":-0.4},{"g":"pax3.L","c":"DMZ.12.5","v":-0.75},{"g":"pax3.L","c":"DMZ.13","v":-0.75},{"g":"pax3.L","c":"DMZ.14","v":-0.05},{"g":"pax3.L","c":"DMZ.15","v":0.85},{"g":"pax3.L","c":"DMZ.16","v":1.2},{"g":"pax3.L","c":"DMZ.17","v":1.8},{"g":"pax3.L","c":"DMZ.18","v":2.05},{"g":"pax3.L","c":"st10.5","v":-1.75},{"g":"pax3.L","c":"st12","v":0.5},{"g":"pax3.L","c":"st15","v":0.95},{"g":"pax3.L","c":"st20","v":0.45},
{"g":"pax3.S","c":"Cap","v":-1.9},{"g":"pax3.S","c":"VMZ","v":-1.5},{"g":"pax3.S","c":"DMZ.11","v":-1.3},{"g":"pax3.S","c":"DMZ.11.5","v":-0.7},{"g":"pax3.S","c":"DMZ.12","v":-0.15},{"g":"pax3.S","c":"DMZ.12.5","v":-0.5},{"g":"pax3.S","c":"DMZ.13","v":-0.4},{"g":"pax3.S","c":"DMZ.14","v":0.3},{"g":"pax3.S","c":"DMZ.15","v":1.2},{"g":"pax3.S","c":"DMZ.16","v":1.2},{"g":"pax3.S","c":"DMZ.17","v":1.75},{"g":"pax3.S","c":"DMZ.18","v":1.75},{"g":"pax3.S","c":"st10.5","v":-1.8},{"g":"pax3.S","c":"st12","v":0.45},{"g":"pax3.S","c":"st15","v":1.05},{"g":"pax3.S","c":"st20","v":0.45},
{"g":"olig3.S","c":"Cap","v":-1.9},{"g":"olig3.S","c":"VMZ","v":-1.8},{"g":"olig3.S","c":"DMZ.11","v":-1.2},{"g":"olig3.S","c":"DMZ.11.5","v":-0.3},{"g":"olig3.S","c":"DMZ.12","v":-0.6},{"g":"olig3.S","c":"DMZ.12.5","v":0.25},{"g":"olig3.S","c":"DMZ.13","v":0.1},{"g":"olig3.S","c":"DMZ.14","v":0.7},{"g":"olig3.S","c":"DMZ.15","v":1.0},{"g":"olig3.S","c":"DMZ.16","v":1.6},{"g":"olig3.S","c":"DMZ.17","v":1.25},{"g":"olig3.S","c":"DMZ.18","v":1.1},{"g":"olig3.S","c":"st10.5","v":-1.05},{"g":"olig3.S","c":"st12","v":1.7},{"g":"olig3.S","c":"st15","v":0.25},{"g":"olig3.S","c":"st20","v":-1.0},
{"g":"twist1.L","c":"Cap","v":-1.9},{"g":"twist1.L","c":"VMZ","v":-1.95},{"g":"twist1.L","c":"DMZ.11","v":-1.45},{"g":"twist1.L","c":"DMZ.11.5","v":-0.15},{"g":"twist1.L","c":"DMZ.12","v":-0.2},{"g":"twist1.L","c":"DMZ.12.5","v":0.35},{"g":"twist1.L","c":"DMZ.13","v":0.95},{"g":"twist1.L","c":"DMZ.14","v":0.75},{"g":"twist1.L","c":"DMZ.15","v":1.05},{"g":"twist1.L","c":"DMZ.16","v":1.35},{"g":"twist1.L","c":"DMZ.17","v":0.95},{"g":"twist1.L","c":"DMZ.18","v":1.1},{"g":"twist1.L","c":"st10.5","v":-1.5},{"g":"twist1.L","c":"st12","v":-0.05},{"g":"twist1.L","c":"st15","v":0.85},{"g":"twist1.L","c":"st20","v":1.1},
{"g":"twist1.S","c":"Cap","v":-2.0},{"g":"twist1.S","c":"VMZ","v":-2.0},{"g":"twist1.S","c":"DMZ.11","v":-1.2},{"g":"twist1.S","c":"DMZ.11.5","v":-0.15},{"g":"twist1.S","c":"DMZ.12","v":0.0},{"g":"twist1.S","c":"DMZ.12.5","v":0.35},{"g":"twist1.S","c":"DMZ.13","v":0.95},{"g":"twist1.S","c":"DMZ.14","v":0.9},{"g":"twist1.S","c":"DMZ.15","v":1.1},{"g":"twist1.S","c":"DMZ.16","v":1.35},{"g":"twist1.S","c":"DMZ.17","v":0.95},{"g":"twist1.S","c":"DMZ.18","v":1.1},{"g":"twist1.S","c":"st10.5","v":-1.5},{"g":"twist1.S","c":"st12","v":-0.35},{"g":"twist1.S","c":"st15","v":1.1},{"g":"twist1.S","c":"st20","v":1.2},
{"g":"snai1.L","c":"Cap","v":-3.0},{"g":"snai1.L","c":"VMZ","v":-0.65},{"g":"snai1.L","c":"DMZ.11","v":0.95},{"g":"snai1.L","c":"DMZ.11.5","v":0.45},{"g":"snai1.L","c":"DMZ.12","v":0.45},{"g":"snai1.L","c":"DMZ.12.5","v":0.25},{"g":"snai1.L","c":"DMZ.13","v":0.2},{"g":"snai1.L","c":"DMZ.14","v":0.1},{"g":"snai1.L","c":"DMZ.15","v":0.05},{"g":"snai1.L","c":"DMZ.16","v":0.5},{"g":"snai1.L","c":"DMZ.17","v":0.75},{"g":"snai1.L","c":"DMZ.18","v":0.35},{"g":"snai1.L","c":"st10.5","v":-1.5},{"g":"snai1.L","c":"st12","v":0.3},{"g":"snai1.L","c":"st15","v":1.35},{"g":"snai1.L","c":"st20","v":0.25},
{"g":"snai1.S","c":"Cap","v":-3.0},{"g":"snai1.S","c":"VMZ","v":-0.75},{"g":"snai1.S","c":"DMZ.11","v":0.55},{"g":"snai1.S","c":"DMZ.11.5","v":-0.1},{"g":"snai1.S","c":"DMZ.12","v":-0.05},{"g":"snai1.S","c":"DMZ.12.5","v":-0.2},{"g":"snai1.S","c":"DMZ.13","v":0.05},{"g":"snai1.S","c":"DMZ.14","v":0.3},{"g":"snai1.S","c":"DMZ.15","v":0.45},{"g":"snai1.S","c":"DMZ.16","v":1.25},{"g":"snai1.S","c":"DMZ.17","v":1.1},{"g":"snai1.S","c":"DMZ.18","v":0.7},{"g":"snai1.S","c":"st10.5","v":-1.5},{"g":"snai1.S","c":"st12","v":-0.3},{"g":"snai1.S","c":"st15","v":1.35},{"g":"snai1.S","c":"st20","v":0.55},
{"g":"zic5.L","c":"Cap","v":-2.1},{"g":"zic5.L","c":"VMZ","v":-1.9},{"g":"zic5.L","c":"DMZ.11","v":-0.75},{"g":"zic5.L","c":"DMZ.11.5","v":-0.25},{"g":"zic5.L","c":"DMZ.12","v":-0.35},{"g":"zic5.L","c":"DMZ.12.5","v":-0.05},{"g":"zic5.L","c":"DMZ.13","v":0.0},{"g":"zic5.L","c":"DMZ.14","v":0.5},{"g":"zic5.L","c":"DMZ.15","v":0.95},{"g":"zic5.L","c":"DMZ.16","v":1.1},{"g":"zic5.L","c":"DMZ.17","v":1.5},{"g":"zic5.L","c":"DMZ.18","v":1.6},{"g":"zic5.L","c":"st10.5","v":-1.3},{"g":"zic5.L","c":"st12","v":-0.4},{"g":"zic5.L","c":"st15","v":1.6},{"g":"zic5.L","c":"st20","v":0.3},
{"g":"zic5.S","c":"Cap","v":-1.9},{"g":"zic5.S","c":"VMZ","v":-1.9},{"g":"zic5.S","c":"DMZ.11","v":-0.8},{"g":"zic5.S","c":"DMZ.11.5","v":-0.55},{"g":"zic5.S","c":"DMZ.12","v":-0.55},{"g":"zic5.S","c":"DMZ.12.5","v":-0.05},{"g":"zic5.S","c":"DMZ.13","v":-0.05},{"g":"zic5.S","c":"DMZ.14","v":0.35},{"g":"zic5.S","c":"DMZ.15","v":1.05},{"g":"zic5.S","c":"DMZ.16","v":1.1},{"g":"zic5.S","c":"DMZ.17","v":1.5},{"g":"zic5.S","c":"DMZ.18","v":1.7},{"g":"zic5.S","c":"st10.5","v":-1.3},{"g":"zic5.S","c":"st12","v":-0.5},{"g":"zic5.S","c":"st15","v":1.6},{"g":"zic5.S","c":"st20","v":0.35},
{"g":"not.L","c":"Cap","v":-1.25},{"g":"not.L","c":"VMZ","v":0.15},{"g":"not.L","c":"DMZ.11","v":2.15},{"g":"not.L","c":"DMZ.11.5","v":1.8},{"g":"not.L","c":"DMZ.12","v":1.1},{"g":"not.L","c":"DMZ.12.5","v":0.25},{"g":"not.L","c":"DMZ.13","v":-0.15},{"g":"not.L","c":"DMZ.14","v":-0.55},{"g":"not.L","c":"DMZ.15","v":-1.5},{"g":"not.L","c":"DMZ.16","v":-1.05},{"g":"not.L","c":"DMZ.17","v":-1.15},{"g":"not.L","c":"DMZ.18","v":-1.0},{"g":"not.L","c":"st10.5","v":1.5},{"g":"not.L","c":"st12","v":0.9},{"g":"not.L","c":"st15","v":-0.8},{"g":"not.L","c":"st20","v":-1.45},
{"g":"not.S","c":"Cap","v":-2.7},{"g":"not.S","c":"VMZ","v":-1.6},{"g":"not.S","c":"DMZ.11","v":1.1},{"g":"not.S","c":"DMZ.11.5","v":1.1},{"g":"not.S","c":"DMZ.12","v":0.55},{"g":"not.S","c":"DMZ.12.5","v":0.55},{"g":"not.S","c":"DMZ.13","v":0.95},{"g":"not.S","c":"DMZ.14","v":0.9},{"g":"not.S","c":"DMZ.15","v":0.35},{"g":"not.S","c":"DMZ.16","v":0.3},{"g":"not.S","c":"DMZ.17","v":-0.2},{"g":"not.S","c":"DMZ.18","v":-0.3},{"g":"not.S","c":"st10.5","v":1.7},{"g":"not.S","c":"st12","v":0.3},{"g":"not.S","c":"st15","v":-1.25},{"g":"not.S","c":"st20","v":-1.1},
{"g":"myod1.L","c":"Cap","v":-2.2},{"g":"myod1.L","c":"VMZ","v":-1.9},{"g":"myod1.L","c":"DMZ.11","v":-1.0},{"g":"myod1.L","c":"DMZ.11.5","v":-0.6},{"g":"myod1.L","c":"DMZ.12","v":0.4},{"g":"myod1.L","c":"DMZ.12.5","v":0.3},{"g":"myod1.L","c":"DMZ.13","v":1.1},{"g":"myod1.L","c":"DMZ.14","v":0.55},{"g":"myod1.L","c":"DMZ.15","v":0.6},{"g":"myod1.L","c":"DMZ.16","v":1.2},{"g":"myod1.L","c":"DMZ.17","v":1.2},{"g":"myod1.L","c":"DMZ.18","v":1.2},{"g":"myod1.L","c":"st10.5","v":-1.45},{"g":"myod1.L","c":"st12","v":-0.2},{"g":"myod1.L","c":"st15","v":1.2},{"g":"myod1.L","c":"st20","v":0.95},
{"g":"myod1.S","c":"Cap","v":-2.7},{"g":"myod1.S","c":"VMZ","v":-1.15},{"g":"myod1.S","c":"DMZ.11","v":-1.05},{"g":"myod1.S","c":"DMZ.11.5","v":-0.6},{"g":"myod1.S","c":"DMZ.12","v":0.3},{"g":"myod1.S","c":"DMZ.12.5","v":0.35},{"g":"myod1.S","c":"DMZ.13","v":1.1},{"g":"myod1.S","c":"DMZ.14","v":0.55},{"g":"myod1.S","c":"DMZ.15","v":0.45},{"g":"myod1.S","c":"DMZ.16","v":1.2},{"g":"myod1.S","c":"DMZ.17","v":1.2},{"g":"myod1.S","c":"DMZ.18","v":1.2},{"g":"myod1.S","c":"st10.5","v":-1.45},{"g":"myod1.S","c":"st12","v":-0.1},{"g":"myod1.S","c":"st15","v":1.0},{"g":"myod1.S","c":"st20","v":1.1},
{"g":"myf5.L","c":"Cap","v":-2.6},{"g":"myf5.L","c":"VMZ","v":-1.7},{"g":"myf5.L","c":"DMZ.11","v":-0.4},{"g":"myf5.L","c":"DMZ.11.5","v":0.0},{"g":"myf5.L","c":"DMZ.12","v":0.6},{"g":"myf5.L","c":"DMZ.12.5","v":0.25},{"g":"myf5.L","c":"DMZ.13","v":1.1},{"g":"myf5.L","c":"DMZ.14","v":0.55},{"g":"myf5.L","c":"DMZ.15","v":0.35},{"g":"myf5.L","c":"DMZ.16","v":0.95},{"g":"myf5.L","c":"DMZ.17","v":1.2},{"g":"myf5.L","c":"DMZ.18","v":0.85},{"g":"myf5.L","c":"st10.5","v":-1.45},{"g":"myf5.L","c":"st12","v":0.45},{"g":"myf5.L","c":"st15","v":1.1},{"g":"myf5.L","c":"st20","v":0.2},
{"g":"myf5.S","c":"Cap","v":-2.6},{"g":"myf5.S","c":"VMZ","v":-1.9},{"g":"myf5.S","c":"DMZ.11","v":-0.1},{"g":"myf5.S","c":"DMZ.11.5","v":0.1},{"g":"myf5.S","c":"DMZ.12","v":0.6},{"g":"myf5.S","c":"DMZ.12.5","v":0.25},{"g":"myf5.S","c":"DMZ.13","v":1.1},{"g":"myf5.S","c":"DMZ.14","v":0.75},{"g":"myf5.S","c":"DMZ.15","v":0.25},{"g":"myf5.S","c":"DMZ.16","v":0.95},{"g":"myf5.S","c":"DMZ.17","v":0.95},{"g":"myf5.S","c":"DMZ.18","v":0.75},{"g":"myf5.S","c":"st10.5","v":-1.45},{"g":"myf5.S","c":"st12","v":0.9},{"g":"myf5.S","c":"st15","v":0.85},{"g":"myf5.S","c":"st20","v":0.05},
{"g":"shh.L","c":"Cap","v":-2.0},{"g":"shh.L","c":"VMZ","v":-2.2},{"g":"shh.L","c":"DMZ.11","v":-0.5},{"g":"shh.L","c":"DMZ.11.5","v":-0.2},{"g":"shh.L","c":"DMZ.12","v":0.0},{"g":"shh.L","c":"DMZ.12.5","v":0.35},{"g":"shh.L","c":"DMZ.13","v":0.7},{"g":"shh.L","c":"DMZ.14","v":0.55},{"g":"shh.L","c":"DMZ.15","v":0.95},{"g":"shh.L","c":"DMZ.16","v":1.25},{"g":"shh.L","c":"DMZ.17","v":0.95},{"g":"shh.L","c":"DMZ.18","v":1.0},{"g":"shh.L","c":"st10.5","v":-1.3},{"g":"shh.L","c":"st12","v":-0.6},{"g":"shh.L","c":"st15","v":0.9},{"g":"shh.L","c":"st20","v":1.5},
{"g":"shh.S","c":"Cap","v":-2.2},{"g":"shh.S","c":"VMZ","v":-2.2},{"g":"shh.S","c":"DMZ.11","v":0.1},{"g":"shh.S","c":"DMZ.11.5","v":0.45},{"g":"shh.S","c":"DMZ.12","v":0.55},{"g":"shh.S","c":"DMZ.12.5","v":0.55},{"g":"shh.S","c":"DMZ.13","v":0.7},{"g":"shh.S","c":"DMZ.14","v":0.5},{"g":"shh.S","c":"DMZ.15","v":0.7},{"g":"shh.S","c":"DMZ.16","v":0.9},{"g":"shh.S","c":"DMZ.17","v":0.35},{"g":"shh.S","c":"DMZ.18","v":0.3},{"g":"shh.S","c":"st10.5","v":-1.45},{"g":"shh.S","c":"st12","v":0.25},{"g":"shh.S","c":"st15","v":0.9},{"g":"shh.S","c":"st20","v":0.9}
]
},
"hconcat": [
{
"hconcat": [
{
"data": {"name": "cells"},
"transform": [
{"lookup": "g", "from": {"data": {"name": "genes"}, "key": "g", "fields": ["grp", "i"]}},
{"filter": {"field": "c", "oneOf": ["Cap", "VMZ"]}}
],
"title": {"text": " ", "fontSize": 35, "fontWeight": "bold", "offset": 19},
"facet": {"row": {"field": "grp", "type": "nominal", "sort": ["Dorsal","Ventral","Pan-mesoderm","Epidermal","Dorsal endoderm","\u200b\u00a0\u00a0A/P ectodermal|neural patterning","D/V ectodermal|\u200b\u00a0\u00a0\u00a0\u00a0\u00a0\u00a0\u00a0\u00a0\u00a0patterning","Neural crest","Mesoderm","Midline"],
"header": {"title": null, "labelOrient": "left", "labelAngle": 0, "labelAlign": "left", "labelBaseline": "middle", "labelFontSize": 34, "labelPadding": 26, "labelLimit": 0, "labelLineHeight": 40, "labelExpr": "split(datum.value, '|')"}}},
"spacing": 11,
"bounds": "flush",
"resolve": {"scale": {"y": "independent"}},
"spec": {
"width": {"step": 43.5}, "height": {"step": 28.9},
"mark": {"type": "rect", "stroke": "#9b9b9b", "strokeWidth": 1.8},
"encoding": {
"x": {"field": "c", "type": "nominal", "sort": ["Cap", "VMZ"], "scale": {"paddingInner": 0, "paddingOuter": 0},
"axis": {"title": null, "orient": "bottom", "labelAngle": -45, "labelAlign": "right", "labelBaseline": "top", "ticks": false, "domain": false, "labelFontSize": 28, "labelPadding": 4, "labelLimit": 0}},
"y": {"field": "g", "type": "nominal", "sort": {"field": "i", "op": "min"}, "axis": null},
"color": {"field": "v", "type": "quantitative",
"scale": {"domain": [-3,-2.6,-2.2,-1.9,-1.5,-1.2,-0.9,-0.6,-0.3,0,0.3,0.6,0.9,1.2,1.5,1.8,2.1,2.5,3], "range": ["#15256a","#0f4786","#0a6fa8","#0888bd","#10a0b6","#14a8b2","#20b2aa","#40bba5","#68c5a0","#94d09b","#c0da98","#e0e195","#f3e48c","#f5e070","#f5da50","#f5d530","#f5cb10","#f5b810","#f5a51f"], "interpolate": "rgb"},
"legend": {"orient": "none", "legendX": 1076, "legendY": -54, "title": "Scaled Expr.", "titleFontSize": 34, "titleFontWeight": "bold", "titleAnchor": "middle", "titleAlign": "center", "titleLimit": 400, "titlePadding": 22, "gradientLength": 471, "gradientThickness": 29, "gradientStrokeWidth": 0, "labelFontSize": 27, "labelOffset": 14, "labelColor": "#000", "values": [-3,-2,-1,0,1,2,3]}}
}
}
},
{
"data": {"name": "cells"},
"transform": [
{"lookup": "g", "from": {"data": {"name": "genes"}, "key": "g", "fields": ["grp", "i"]}},
{"filter": {"field": "c", "oneOf": ["DMZ.11","DMZ.11.5","DMZ.12","DMZ.12.5","DMZ.13","DMZ.14","DMZ.15","DMZ.16","DMZ.17","DMZ.18"]}}
],
"title": {"text": "Canonical Markers", "fontSize": 35, "fontWeight": "bold", "offset": 19, "anchor": "middle", "frame": "group", "dx": 202},
"facet": {"row": {"field": "grp", "type": "nominal", "sort": ["Dorsal","Ventral","Pan-mesoderm","Epidermal","Dorsal endoderm","\u200b\u00a0\u00a0A/P ectodermal|neural patterning","D/V ectodermal|\u200b\u00a0\u00a0\u00a0\u00a0\u00a0\u00a0\u00a0\u00a0\u00a0patterning","Neural crest","Mesoderm","Midline"], "header": {"title": null, "labels": false}}},
"spacing": 11,
"bounds": "flush",
"resolve": {"scale": {"y": "independent"}},
"spec": {
"width": {"step": 43.5}, "height": {"step": 28.9},
"mark": {"type": "rect", "stroke": "#9b9b9b", "strokeWidth": 1.8},
"encoding": {
"x": {"field": "c", "type": "nominal", "sort": ["DMZ.11","DMZ.11.5","DMZ.12","DMZ.12.5","DMZ.13","DMZ.14","DMZ.15","DMZ.16","DMZ.17","DMZ.18"], "scale": {"paddingInner": 0, "paddingOuter": 0},
"axis": {"title": null, "orient": "bottom", "labelAngle": -45, "labelAlign": "right", "labelBaseline": "top", "ticks": false, "domain": false, "labelFontSize": 28, "labelPadding": 4, "labelLimit": 0}},
"y": {"field": "g", "type": "nominal", "sort": {"field": "i", "op": "min"},
"axis": {"title": null, "orient": "right", "ticks": false, "domain": false, "labelFontSize": 28, "labelPadding": 8, "labelLimit": 0}},
"color": {"field": "v", "type": "quantitative",
"scale": {"domain": [-3,-2.6,-2.2,-1.9,-1.5,-1.2,-0.9,-0.6,-0.3,0,0.3,0.6,0.9,1.2,1.5,1.8,2.1,2.5,3], "range": ["#15256a","#0f4786","#0a6fa8","#0888bd","#10a0b6","#14a8b2","#20b2aa","#40bba5","#68c5a0","#94d09b","#c0da98","#e0e195","#f3e48c","#f5e070","#f5da50","#f5d530","#f5cb10","#f5b810","#f5a51f"], "interpolate": "rgb"},
"legend": {"orient": "none", "legendX": 1076, "legendY": -54, "title": "Scaled Expr.", "titleFontSize": 34, "titleFontWeight": "bold", "titleAnchor": "middle", "titleAlign": "center", "titleLimit": 400, "titlePadding": 22, "gradientLength": 471, "gradientThickness": 29, "gradientStrokeWidth": 0, "labelFontSize": 27, "labelOffset": 14, "labelColor": "#000", "values": [-3,-2,-1,0,1,2,3]}}
}
}
}
],
"spacing": -38
},
{
"data": {"name": "cells"},
"transform": [
{"lookup": "g", "from": {"data": {"name": "genes"}, "key": "g", "fields": ["grp", "i"]}},
{"filter": {"field": "c", "oneOf": ["st10.5","st12","st15","st20"]}}
],
"title": {"text": "Embryo", "fontSize": 35, "fontWeight": "bold", "offset": 19, "anchor": "middle", "frame": "group", "dx": 90.5},
"facet": {"row": {"field": "grp", "type": "nominal", "sort": ["Dorsal","Ventral","Pan-mesoderm","Epidermal","Dorsal endoderm","\u200b\u00a0\u00a0A/P ectodermal|neural patterning","D/V ectodermal|\u200b\u00a0\u00a0\u00a0\u00a0\u00a0\u00a0\u00a0\u00a0\u00a0patterning","Neural crest","Mesoderm","Midline"], "header": {"title": null, "labels": false}}},
"spacing": 11,
"bounds": "flush",
"resolve": {"scale": {"y": "independent"}},
"spec": {
"width": {"step": 43.5}, "height": {"step": 28.9},
"mark": {"type": "rect", "stroke": "#9b9b9b", "strokeWidth": 1.8},
"encoding": {
"x": {"field": "c", "type": "nominal", "sort": ["st10.5","st12","st15","st20"], "scale": {"paddingInner": 0, "paddingOuter": 0},
"axis": {"title": null, "orient": "bottom", "labelAngle": -45, "labelAlign": "right", "labelBaseline": "top", "ticks": false, "domain": false, "labelFontSize": 28, "labelPadding": 4, "labelLimit": 0}},
"y": {"field": "g", "type": "nominal", "sort": {"field": "i", "op": "min"},
"axis": {"title": null, "orient": "right", "ticks": false, "domain": false, "labelFontSize": 28, "labelPadding": 8, "labelLimit": 0}},
"color": {"field": "v", "type": "quantitative",
"scale": {"domain": [-3,-2.6,-2.2,-1.9,-1.5,-1.2,-0.9,-0.6,-0.3,0,0.3,0.6,0.9,1.2,1.5,1.8,2.1,2.5,3], "range": ["#15256a","#0f4786","#0a6fa8","#0888bd","#10a0b6","#14a8b2","#20b2aa","#40bba5","#68c5a0","#94d09b","#c0da98","#e0e195","#f3e48c","#f5e070","#f5da50","#f5d530","#f5cb10","#f5b810","#f5a51f"], "interpolate": "rgb"},
"legend": {"orient": "none", "legendX": 1076, "legendY": -54, "title": "Scaled Expr.", "titleFontSize": 34, "titleFontWeight": "bold", "titleAnchor": "middle", "titleAlign": "center", "titleLimit": 400, "titlePadding": 22, "gradientLength": 471, "gradientThickness": 29, "gradientStrokeWidth": 0, "labelFontSize": 27, "labelOffset": 14, "labelColor": "#000", "values": [-3,-2,-1,0,1,2,3]}}
}
}
}
],
"spacing": 14,
"resolve": {"scale": {"color": "shared"}}
}
